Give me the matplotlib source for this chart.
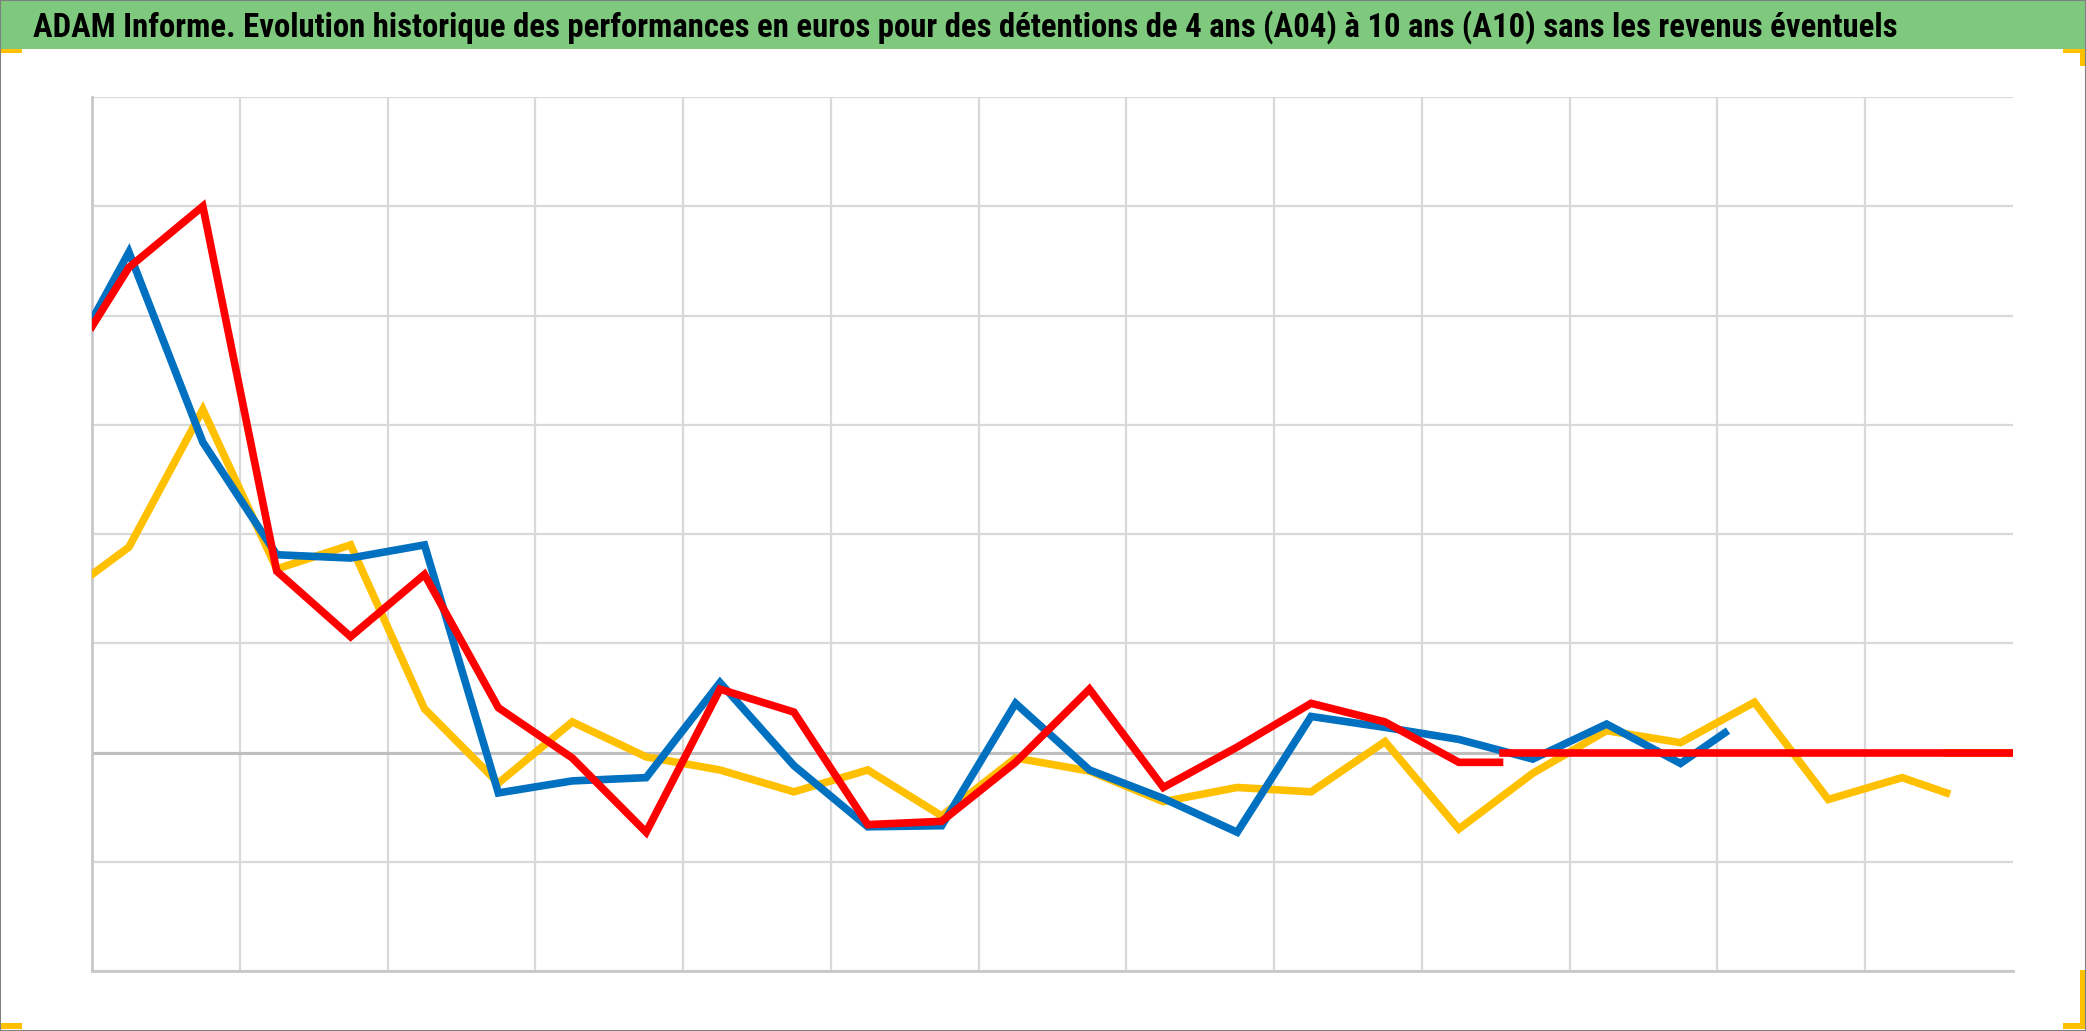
import matplotlib
matplotlib.use("Agg")
import matplotlib.pyplot as plt
from matplotlib.patches import Rectangle
from matplotlib import font_manager

# ---------------- data (gridline units, one vertex per half grid interval) ----------------
title = ("ADAM Informe. Evolution historique des performances en euros pour des "
         "détentions de 4 ans (A04) à 10 ans (A10) sans les revenus éventuels")

x_yellow = [-0.5] + list(range(0, 25)) + [24.6]
yellow = [1.63, 1.88, 3.14, 1.68, 1.90, 0.40, -0.28, 0.28, -0.04, -0.16, -0.36, -0.16,
          -0.58, -0.05, -0.17, -0.45, -0.32, -0.36, 0.10, -0.70, -0.19, 0.20, 0.09,
          0.46, -0.43, -0.23, -0.37]
x_yellow_tail = [24.6, 25.5]
yellow_tail = [0.0, 0.0]

x_blue = [-0.5] + list(range(0, 22)) + [21.6]
blue = [3.96, 4.58, 2.84, 1.81, 1.78, 1.90, -0.37, -0.26, -0.23, 0.64, -0.12, -0.68,
        -0.67, 0.45, -0.16, -0.42, -0.73, 0.33, 0.23, 0.12, -0.06, 0.26, -0.10, 0.18]

x_red = [-0.5] + list(range(0, 19)) + [18.55]
red = [3.90, 4.44, 5.00, 1.66, 1.06, 1.63, 0.41, -0.05, -0.73, 0.58, 0.37, -0.66,
       -0.63, -0.09, 0.58, -0.32, 0.05, 0.45, 0.28, -0.09, -0.09]
x_red_tail = [18.6, 25.5]
red_tail = [0.0, 0.0]

x_grid = [-0.5 + 2 * k for k in range(13)]
y_grid = list(range(-2, 7))

# ---------------- figure ----------------
W, H = 2086, 1031
fig = plt.figure(figsize=(W / 100, H / 100), dpi=100)
fig.patch.set_facecolor("white")

# title bar
fig.patches.append(Rectangle((0, 1 - 49 / H), 1, 49 / H, transform=fig.transFigure,
                             facecolor="#7FC97F", edgecolor="none", zorder=0))

available = {f.name for f in font_manager.fontManager.ttflist}
fam = [f for f in ["Roboto Condensed", "Liberation Sans Narrow", "Roboto", "DejaVu Sans"]
       if f in available]
t = fig.text(33 / W, 1 - 37 / H, title, ha="left", va="baseline", fontsize=20,
             fontweight="bold", color="black", family=fam)
fig.canvas.draw()
bb = t.get_window_extent(renderer=fig.canvas.get_renderer())
t.set_fontsize(20 * 1863 / bb.width)

# selection handles (yellow corners)
hc = "#FFC000"
for (x0, y0, w, h) in [(0, 49, 22, 4), (0, 1023, 22, 6), (2063, 49, 22, 4), (2080, 49, 5, 17),
                       (2063, 1023, 22, 6), (2080, 970, 5, 59)]:
    fig.patches.append(Rectangle((x0 / W, 1 - (y0 + h) / H), w / W, h / H,
                                 transform=fig.transFigure, facecolor=hc,
                                 edgecolor="none", zorder=1))
# outer border
fig.patches.append(Rectangle((0, 0), 1, 1, transform=fig.transFigure, fill=False,
                             edgecolor="#808080", linewidth=1.5, zorder=2))

ax = fig.add_axes([92 / W, 1 - 971 / H, (2013 - 92) / W, (971 - 97) / H])
ax.set_xlim(-0.5, 25.5)
ax.set_ylim(-2, 6)
ax.set_xticks(x_grid)
ax.set_yticks(y_grid)
ax.tick_params(length=0, labelbottom=False, labelleft=False)
ax.grid(True, color="#D9D9D9", linewidth=1.6)
ax.set_axisbelow(True)
for s in ["top", "right"]:
    ax.spines[s].set_visible(False)
for s in ["left", "bottom"]:
    ax.spines[s].set_color("#C8C8C8")
    ax.spines[s].set_linewidth(2)
ax.axhline(0, color="#BFBFBF", linewidth=2.2, zorder=1)

lw = 5.5
ax.plot(x_yellow, yellow, color="#FFC000", linewidth=lw, solid_joinstyle="miter", zorder=3)
ax.plot(x_yellow_tail, yellow_tail, color="#FFC000", linewidth=lw, zorder=3)
ax.plot(x_blue, blue, color="#0070C0", linewidth=lw, solid_joinstyle="miter", zorder=4)
ax.plot(x_red, red, color="#FF0000", linewidth=lw, solid_joinstyle="miter", zorder=5)
ax.plot(x_red_tail, red_tail, color="#FF0000", linewidth=lw, zorder=5)

fig.savefig("out.png", dpi=100)
